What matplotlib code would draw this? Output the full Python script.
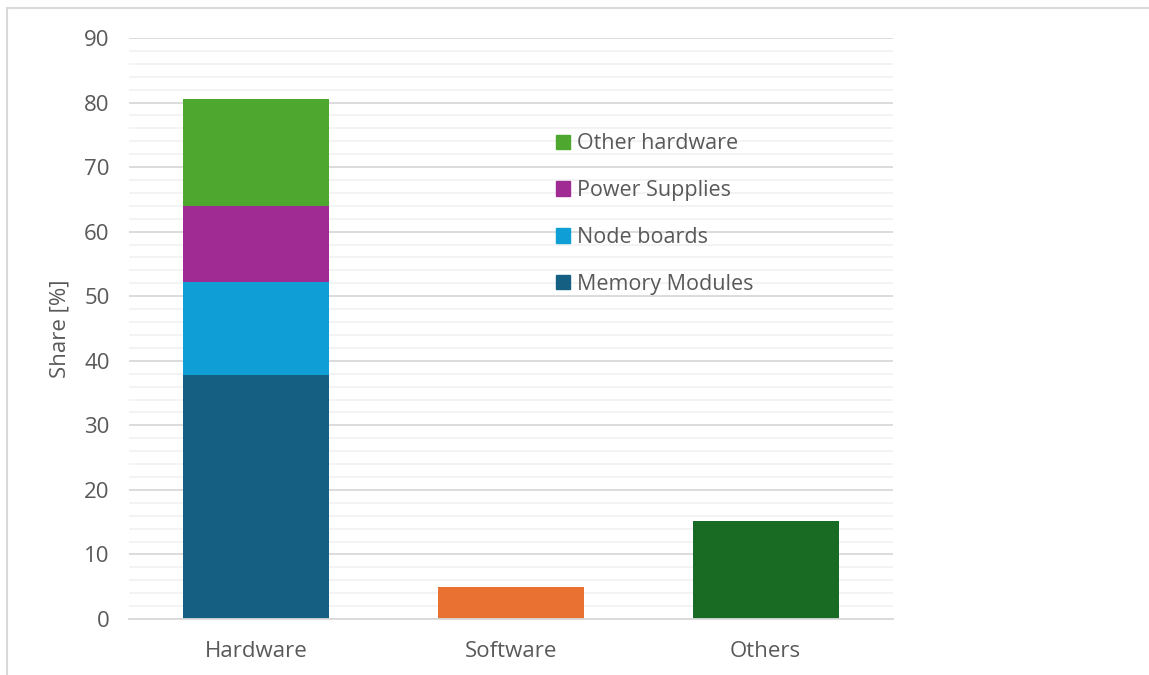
import matplotlib
matplotlib.use("Agg")
import matplotlib.pyplot as plt
from matplotlib.patches import Rectangle, Patch
from matplotlib.ticker import MultipleLocator

categories = ["Hardware", "Software", "Others"]
hw_series = ["Memory Modules", "Node boards", "Power Supplies", "Other hardware"]
hw_values = [37.8, 14.4, 11.8, 16.5]
hw_colors = ["#156082", "#0F9ED5", "#A02B93", "#4EA72E"]
software_value = 5.0
others_value = 15.2
software_color = "#E97132"
others_color = "#196B24"

plt.rcParams['font.family'] = ['Open Sans', 'DejaVu Sans']
text_color = "#595959"

fig = plt.figure(figsize=(11.49, 6.75), dpi=100)
ax = fig.add_axes([129/1149, 1-619/675, (893-129)/1149, (619-38)/675])

width = 0.573
bottom = 0.0
handles = []
for name, val, col in zip(hw_series, hw_values, hw_colors):
    ax.bar(0, val, width=width, bottom=bottom, color=col, zorder=3)
    bottom += val
    handles.append(Patch(color=col, label=name))
ax.bar(1, software_value, width=width, color=software_color, zorder=3)
ax.bar(2, others_value, width=width, color=others_color, zorder=3)

ax.set_xlim(-0.5, 2.5)
ax.set_ylim(0, 90)
ax.yaxis.set_major_locator(MultipleLocator(10))
ax.yaxis.set_minor_locator(MultipleLocator(2))
ax.grid(which='major', axis='y', color='#d9d9d9', linewidth=1.3, zorder=0)
ax.grid(which='minor', axis='y', color='#f2f2f2', linewidth=1.3, zorder=0)
ax.set_xticks(range(len(categories)))
ax.set_xticklabels(categories)
ax.tick_params(axis='both', which='both', length=0, colors=text_color, labelsize=16)
ax.tick_params(axis='x', pad=16)
ax.tick_params(axis='y', pad=14)
for s in ['top', 'right', 'left']:
    ax.spines[s].set_visible(False)
ax.spines['bottom'].set_color('#d9d9d9')
ax.spines['bottom'].set_linewidth(1.3)
ax.spines['bottom'].set_zorder(4)
ax.set_ylabel("Share [%]", color=text_color, fontsize=16, labelpad=10)

leg = fig.legend(handles=handles[::-1], loc='upper left',
                 bbox_to_anchor=(537/1149, 1-114/675), frameon=False,
                 fontsize=15.5, handlelength=0.65, handleheight=0.65,
                 handletextpad=0.3, labelspacing=1.2)
for t in leg.get_texts():
    t.set_color(text_color)

fig.patches.append(Rectangle((7/1149, -0.1), 1.2, 1.1 - 8/675, transform=fig.transFigure,
                             fill=False, edgecolor='#d9d9d9', linewidth=1.5, zorder=0))

fig.savefig("out.png", dpi=100)
